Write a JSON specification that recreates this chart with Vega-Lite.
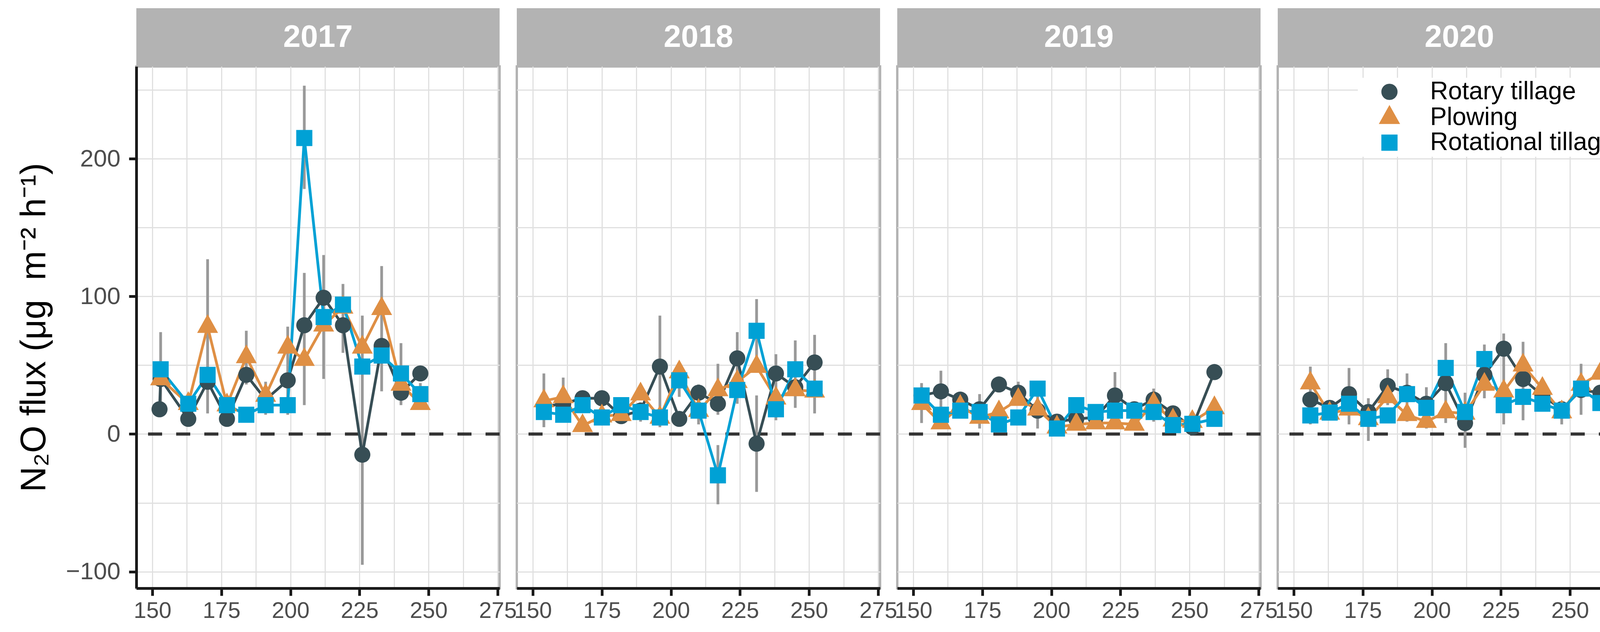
{
  "$schema": "https://vega.github.io/schema/vega-lite/v6.json",
  "background": "white",
  "padding": {"left": 40, "top": 21, "right": 0, "bottom": 0},
  "config": {"font": "Liberation Sans", "view": {"stroke": null}},
  "datasets": {
    "flux": [
      {"year":2017,"day":152.6,"trt":"Rotary tillage","flux":18},
      {"year":2017,"day":153,"trt":"Rotary tillage","flux":40},
      {"year":2017,"day":163,"trt":"Rotary tillage","flux":11},
      {"year":2017,"day":170,"trt":"Rotary tillage","flux":38},
      {"year":2017,"day":177,"trt":"Rotary tillage","flux":11},
      {"year":2017,"day":184,"trt":"Rotary tillage","flux":43},
      {"year":2017,"day":191,"trt":"Rotary tillage","flux":25,"lo":14,"hi":38},
      {"year":2017,"day":199,"trt":"Rotary tillage","flux":39,"lo":14,"hi":78},
      {"year":2017,"day":205,"trt":"Rotary tillage","flux":79,"lo":21,"hi":117},
      {"year":2017,"day":212,"trt":"Rotary tillage","flux":99},
      {"year":2017,"day":219,"trt":"Rotary tillage","flux":79,"lo":59,"hi":109},
      {"year":2017,"day":226,"trt":"Rotary tillage","flux":-15,"lo":-95,"hi":65},
      {"year":2017,"day":233,"trt":"Rotary tillage","flux":64},
      {"year":2017,"day":240,"trt":"Rotary tillage","flux":30},
      {"year":2017,"day":247,"trt":"Rotary tillage","flux":44},
      {"year":2017,"day":153,"trt":"Plowing","flux":40},
      {"year":2017,"day":163,"trt":"Plowing","flux":22},
      {"year":2017,"day":170,"trt":"Plowing","flux":78,"lo":15,"hi":127},
      {"year":2017,"day":177,"trt":"Plowing","flux":21},
      {"year":2017,"day":184,"trt":"Plowing","flux":56,"lo":36,"hi":75},
      {"year":2017,"day":191,"trt":"Plowing","flux":28},
      {"year":2017,"day":199,"trt":"Plowing","flux":63},
      {"year":2017,"day":205,"trt":"Plowing","flux":54},
      {"year":2017,"day":212,"trt":"Plowing","flux":79},
      {"year":2017,"day":219,"trt":"Plowing","flux":92},
      {"year":2017,"day":226,"trt":"Plowing","flux":63,"lo":46,"hi":86},
      {"year":2017,"day":233,"trt":"Plowing","flux":91,"lo":31,"hi":122},
      {"year":2017,"day":240,"trt":"Plowing","flux":36},
      {"year":2017,"day":247,"trt":"Plowing","flux":22},
      {"year":2017,"day":153,"trt":"Rotational tillage","flux":47,"lo":23,"hi":74},
      {"year":2017,"day":163,"trt":"Rotational tillage","flux":22},
      {"year":2017,"day":170,"trt":"Rotational tillage","flux":43},
      {"year":2017,"day":177,"trt":"Rotational tillage","flux":21},
      {"year":2017,"day":184,"trt":"Rotational tillage","flux":14},
      {"year":2017,"day":191,"trt":"Rotational tillage","flux":21},
      {"year":2017,"day":199,"trt":"Rotational tillage","flux":21},
      {"year":2017,"day":205,"trt":"Rotational tillage","flux":215,"lo":178,"hi":253},
      {"year":2017,"day":212,"trt":"Rotational tillage","flux":85,"lo":40,"hi":130},
      {"year":2017,"day":219,"trt":"Rotational tillage","flux":94},
      {"year":2017,"day":226,"trt":"Rotational tillage","flux":49},
      {"year":2017,"day":233,"trt":"Rotational tillage","flux":57},
      {"year":2017,"day":240,"trt":"Rotational tillage","flux":44,"lo":21,"hi":66},
      {"year":2017,"day":247,"trt":"Rotational tillage","flux":29,"lo":23,"hi":37},

      {"year":2018,"day":154,"trt":"Rotary tillage","flux":20},
      {"year":2018,"day":161,"trt":"Rotary tillage","flux":22},
      {"year":2018,"day":168,"trt":"Rotary tillage","flux":26},
      {"year":2018,"day":175,"trt":"Rotary tillage","flux":26},
      {"year":2018,"day":182,"trt":"Rotary tillage","flux":13},
      {"year":2018,"day":189,"trt":"Rotary tillage","flux":17},
      {"year":2018,"day":196,"trt":"Rotary tillage","flux":49,"lo":5,"hi":86},
      {"year":2018,"day":203,"trt":"Rotary tillage","flux":11},
      {"year":2018,"day":210,"trt":"Rotary tillage","flux":30},
      {"year":2018,"day":217,"trt":"Rotary tillage","flux":22},
      {"year":2018,"day":224,"trt":"Rotary tillage","flux":55,"lo":22,"hi":74},
      {"year":2018,"day":231,"trt":"Rotary tillage","flux":-7,"lo":-42,"hi":28},
      {"year":2018,"day":238,"trt":"Rotary tillage","flux":44,"lo":10,"hi":58},
      {"year":2018,"day":245,"trt":"Rotary tillage","flux":34},
      {"year":2018,"day":252,"trt":"Rotary tillage","flux":52,"lo":15,"hi":72},
      {"year":2018,"day":154,"trt":"Plowing","flux":24,"lo":5,"hi":44},
      {"year":2018,"day":161,"trt":"Plowing","flux":27,"lo":15,"hi":41},
      {"year":2018,"day":168,"trt":"Plowing","flux":6},
      {"year":2018,"day":175,"trt":"Plowing","flux":13},
      {"year":2018,"day":182,"trt":"Plowing","flux":14},
      {"year":2018,"day":189,"trt":"Plowing","flux":29},
      {"year":2018,"day":196,"trt":"Plowing","flux":12},
      {"year":2018,"day":203,"trt":"Plowing","flux":45},
      {"year":2018,"day":210,"trt":"Plowing","flux":17},
      {"year":2018,"day":217,"trt":"Plowing","flux":32,"lo":14,"hi":51},
      {"year":2018,"day":224,"trt":"Plowing","flux":38},
      {"year":2018,"day":231,"trt":"Plowing","flux":49},
      {"year":2018,"day":238,"trt":"Plowing","flux":26},
      {"year":2018,"day":245,"trt":"Plowing","flux":32},
      {"year":2018,"day":252,"trt":"Plowing","flux":31},
      {"year":2018,"day":154,"trt":"Rotational tillage","flux":16},
      {"year":2018,"day":161,"trt":"Rotational tillage","flux":14},
      {"year":2018,"day":168,"trt":"Rotational tillage","flux":21},
      {"year":2018,"day":175,"trt":"Rotational tillage","flux":12},
      {"year":2018,"day":182,"trt":"Rotational tillage","flux":21},
      {"year":2018,"day":189,"trt":"Rotational tillage","flux":16,"lo":9,"hi":23},
      {"year":2018,"day":196,"trt":"Rotational tillage","flux":12},
      {"year":2018,"day":203,"trt":"Rotational tillage","flux":39,"lo":27,"hi":50},
      {"year":2018,"day":210,"trt":"Rotational tillage","flux":17,"lo":7,"hi":36},
      {"year":2018,"day":217,"trt":"Rotational tillage","flux":-30,"lo":-51,"hi":-8},
      {"year":2018,"day":224,"trt":"Rotational tillage","flux":32},
      {"year":2018,"day":231,"trt":"Rotational tillage","flux":75,"lo":53,"hi":98},
      {"year":2018,"day":238,"trt":"Rotational tillage","flux":18},
      {"year":2018,"day":245,"trt":"Rotational tillage","flux":47,"lo":19,"hi":68},
      {"year":2018,"day":252,"trt":"Rotational tillage","flux":33},

      {"year":2019,"day":153,"trt":"Rotary tillage","flux":28},
      {"year":2019,"day":160,"trt":"Rotary tillage","flux":31,"lo":16,"hi":46},
      {"year":2019,"day":167,"trt":"Rotary tillage","flux":25},
      {"year":2019,"day":174,"trt":"Rotary tillage","flux":18},
      {"year":2019,"day":181,"trt":"Rotary tillage","flux":36},
      {"year":2019,"day":188,"trt":"Rotary tillage","flux":30,"lo":22,"hi":38},
      {"year":2019,"day":195,"trt":"Rotary tillage","flux":17,"lo":4,"hi":28},
      {"year":2019,"day":202,"trt":"Rotary tillage","flux":9},
      {"year":2019,"day":209,"trt":"Rotary tillage","flux":11},
      {"year":2019,"day":216,"trt":"Rotary tillage","flux":12},
      {"year":2019,"day":223,"trt":"Rotary tillage","flux":28,"lo":11,"hi":45},
      {"year":2019,"day":230,"trt":"Rotary tillage","flux":18},
      {"year":2019,"day":237,"trt":"Rotary tillage","flux":25},
      {"year":2019,"day":244,"trt":"Rotary tillage","flux":15},
      {"year":2019,"day":251,"trt":"Rotary tillage","flux":5},
      {"year":2019,"day":259,"trt":"Rotary tillage","flux":45},
      {"year":2019,"day":153,"trt":"Plowing","flux":22,"lo":8,"hi":37},
      {"year":2019,"day":160,"trt":"Plowing","flux":8},
      {"year":2019,"day":167,"trt":"Plowing","flux":20},
      {"year":2019,"day":174,"trt":"Plowing","flux":12},
      {"year":2019,"day":181,"trt":"Plowing","flux":16},
      {"year":2019,"day":188,"trt":"Plowing","flux":25},
      {"year":2019,"day":195,"trt":"Plowing","flux":18},
      {"year":2019,"day":202,"trt":"Plowing","flux":5},
      {"year":2019,"day":209,"trt":"Plowing","flux":7},
      {"year":2019,"day":216,"trt":"Plowing","flux":8},
      {"year":2019,"day":223,"trt":"Plowing","flux":8},
      {"year":2019,"day":230,"trt":"Plowing","flux":7},
      {"year":2019,"day":237,"trt":"Plowing","flux":22,"lo":9,"hi":33},
      {"year":2019,"day":244,"trt":"Plowing","flux":10},
      {"year":2019,"day":251,"trt":"Plowing","flux":9},
      {"year":2019,"day":259,"trt":"Plowing","flux":19},
      {"year":2019,"day":153,"trt":"Rotational tillage","flux":28},
      {"year":2019,"day":160,"trt":"Rotational tillage","flux":14},
      {"year":2019,"day":167,"trt":"Rotational tillage","flux":17},
      {"year":2019,"day":174,"trt":"Rotational tillage","flux":16,"lo":4,"hi":29},
      {"year":2019,"day":181,"trt":"Rotational tillage","flux":7},
      {"year":2019,"day":188,"trt":"Rotational tillage","flux":12},
      {"year":2019,"day":195,"trt":"Rotational tillage","flux":33},
      {"year":2019,"day":202,"trt":"Rotational tillage","flux":4},
      {"year":2019,"day":209,"trt":"Rotational tillage","flux":21},
      {"year":2019,"day":216,"trt":"Rotational tillage","flux":16},
      {"year":2019,"day":223,"trt":"Rotational tillage","flux":17},
      {"year":2019,"day":230,"trt":"Rotational tillage","flux":17},
      {"year":2019,"day":237,"trt":"Rotational tillage","flux":16},
      {"year":2019,"day":244,"trt":"Rotational tillage","flux":6.5},
      {"year":2019,"day":251,"trt":"Rotational tillage","flux":7.4},
      {"year":2019,"day":259,"trt":"Rotational tillage","flux":11},

      {"year":2020,"day":156,"trt":"Rotary tillage","flux":25,"lo":7,"hi":49},
      {"year":2020,"day":163,"trt":"Rotary tillage","flux":19},
      {"year":2020,"day":170,"trt":"Rotary tillage","flux":29,"lo":7,"hi":48},
      {"year":2020,"day":177,"trt":"Rotary tillage","flux":16},
      {"year":2020,"day":184,"trt":"Rotary tillage","flux":35,"lo":21,"hi":47},
      {"year":2020,"day":191,"trt":"Rotary tillage","flux":30},
      {"year":2020,"day":198,"trt":"Rotary tillage","flux":22},
      {"year":2020,"day":205,"trt":"Rotary tillage","flux":37,"lo":8,"hi":66},
      {"year":2020,"day":212,"trt":"Rotary tillage","flux":8,"lo":-10,"hi":30},
      {"year":2020,"day":219,"trt":"Rotary tillage","flux":43,"lo":26,"hi":65},
      {"year":2020,"day":226,"trt":"Rotary tillage","flux":62,"lo":7,"hi":73},
      {"year":2020,"day":233,"trt":"Rotary tillage","flux":40,"lo":10,"hi":67},
      {"year":2020,"day":240,"trt":"Rotary tillage","flux":28},
      {"year":2020,"day":247,"trt":"Rotary tillage","flux":18},
      {"year":2020,"day":254,"trt":"Rotary tillage","flux":32},
      {"year":2020,"day":261,"trt":"Rotary tillage","flux":30},
      {"year":2020,"day":156,"trt":"Plowing","flux":37},
      {"year":2020,"day":163,"trt":"Plowing","flux":15},
      {"year":2020,"day":170,"trt":"Plowing","flux":18},
      {"year":2020,"day":177,"trt":"Plowing","flux":11},
      {"year":2020,"day":184,"trt":"Plowing","flux":27},
      {"year":2020,"day":191,"trt":"Plowing","flux":14},
      {"year":2020,"day":198,"trt":"Plowing","flux":9},
      {"year":2020,"day":205,"trt":"Plowing","flux":16},
      {"year":2020,"day":212,"trt":"Plowing","flux":15},
      {"year":2020,"day":219,"trt":"Plowing","flux":36},
      {"year":2020,"day":226,"trt":"Plowing","flux":31},
      {"year":2020,"day":233,"trt":"Plowing","flux":50},
      {"year":2020,"day":240,"trt":"Plowing","flux":33},
      {"year":2020,"day":247,"trt":"Plowing","flux":16,"lo":7,"hi":24},
      {"year":2020,"day":254,"trt":"Plowing","flux":36},
      {"year":2020,"day":261,"trt":"Plowing","flux":44},
      {"year":2020,"day":156,"trt":"Rotational tillage","flux":13.5},
      {"year":2020,"day":163,"trt":"Rotational tillage","flux":15.6},
      {"year":2020,"day":170,"trt":"Rotational tillage","flux":22},
      {"year":2020,"day":177,"trt":"Rotational tillage","flux":11,"lo":-5,"hi":26},
      {"year":2020,"day":184,"trt":"Rotational tillage","flux":13.5},
      {"year":2020,"day":191,"trt":"Rotational tillage","flux":29,"lo":9,"hi":44},
      {"year":2020,"day":198,"trt":"Rotational tillage","flux":19,"lo":4,"hi":34},
      {"year":2020,"day":205,"trt":"Rotational tillage","flux":48},
      {"year":2020,"day":212,"trt":"Rotational tillage","flux":16},
      {"year":2020,"day":219,"trt":"Rotational tillage","flux":54.5},
      {"year":2020,"day":226,"trt":"Rotational tillage","flux":21},
      {"year":2020,"day":233,"trt":"Rotational tillage","flux":27},
      {"year":2020,"day":240,"trt":"Rotational tillage","flux":22},
      {"year":2020,"day":247,"trt":"Rotational tillage","flux":17},
      {"year":2020,"day":254,"trt":"Rotational tillage","flux":33,"lo":14,"hi":51},
      {"year":2020,"day":261,"trt":"Rotational tillage","flux":22.5}
    ]
  },
  "columns": 4,
  "spacing": {"row": 0, "column": 44},
  "bounds": "flush",
  "resolve": {"legend": {"color": "independent", "shape": "independent"}},
  "concat": [
    {"width": 930, "height": 149, "data": {"values": [{"label": "2017"}]}, "view": {"fill": "#b3b3b3", "stroke": null},
     "mark": {"type": "text", "font": "Liberation Sans", "fontSize": 80, "fontWeight": "bold", "color": "white"},
     "encoding": {"text": {"field": "label"}}},
    {"width": 930, "height": 149, "data": {"values": [{"label": "2018"}]}, "view": {"fill": "#b3b3b3", "stroke": null},
     "mark": {"type": "text", "font": "Liberation Sans", "fontSize": 80, "fontWeight": "bold", "color": "white"},
     "encoding": {"text": {"field": "label"}}},
    {"width": 930, "height": 149, "data": {"values": [{"label": "2019"}]}, "view": {"fill": "#b3b3b3", "stroke": null},
     "mark": {"type": "text", "font": "Liberation Sans", "fontSize": 80, "fontWeight": "bold", "color": "white"},
     "encoding": {"text": {"field": "label"}}},
    {"width": 930, "height": 149, "data": {"values": [{"label": "2020"}]}, "view": {"fill": "#b3b3b3", "stroke": null},
     "mark": {"type": "text", "font": "Liberation Sans", "fontSize": 80, "fontWeight": "bold", "color": "white"},
     "encoding": {"text": {"field": "label"}}},

    {"width": 930, "height": 1335, "data": {"name": "flux"}, "transform": [{"filter": "datum.year == 2017"}],
     "view": {"stroke": "#b3b3b3", "strokeWidth": 6},
     "layer": [
       {"transform": [{"aggregate": [{"op": "count", "as": "n"}]}],
        "mark": {"type": "rule", "color": "#333333", "strokeWidth": 8, "strokeDash": [36, 36]},
        "encoding": {"y": {"datum": 0, "type": "quantitative", "axis": null}}},
       {"transform": [{"filter": "isValid(datum.lo)"}],
        "mark": {"type": "rule", "color": "#999999", "strokeWidth": 7},
        "encoding": {
          "x": {"field": "day", "type": "quantitative", "scale": {"domain": [144.2, 275.7], "nice": false, "zero": false},
                "axis": {"orient": "top", "values": [150,162.5,175,187.5,200,212.5,225,237.5,250,262.5,275], "grid": true, "gridColor": "#e0e0e0", "gridWidth": 3, "ticks": false, "labels": false, "domain": false, "title": null}},
          "y": {"field": "lo", "type": "quantitative", "scale": {"domain": [-112, 267], "nice": false, "zero": false},
                "axis": {"orient": "right", "values": [-100,-50,0,50,100,150,200,250], "grid": true, "gridColor": "#e0e0e0", "gridWidth": 3, "ticks": false, "labels": false, "domain": false, "title": null}},
          "y2": {"field": "hi"}}},
       {"mark": {"type": "line", "strokeWidth": 7},
        "encoding": {
          "x": {"field": "day", "type": "quantitative", "axis": null},
          "y": {"field": "flux", "type": "quantitative", "axis": null},
          "color": {"field": "trt", "type": "nominal", "scale": {"domain": ["Rotary tillage", "Plowing", "Rotational tillage"], "range": ["#374E55", "#DF8F44", "#00A1D5"]}, "legend": null}}},
       {"mark": {"type": "point", "filled": true, "opacity": 1, "size": 1700},
        "encoding": {
          "x": {"field": "day", "type": "quantitative",
                "axis": {"orient": "bottom", "values": [150,175,200,225,250,275], "grid": false, "domainColor": "#1a1a1a", "domainWidth": 7, "tickColor": "#1a1a1a", "tickWidth": 7, "tickSize": 19, "labelFontSize": 58, "labelColor": "#4d4d4d", "labelFont": "Liberation Sans", "labelPadding": 10, "labelFlush": false, "labelOverlap": false, "title": null}},
          "y": {"field": "flux", "type": "quantitative",
                "axis": {"orient": "left", "values": [-100,0,100,200], "grid": false, "domainColor": "#1a1a1a", "domainWidth": 7, "tickColor": "#1a1a1a", "tickWidth": 7, "tickSize": 19, "labelFontSize": 62, "labelColor": "#4d4d4d", "labelFont": "Liberation Sans", "labelPadding": 22, "title": "N₂O flux (μg\u00a0\u00a0m⁻² h⁻¹)", "titleFont": "Liberation Sans", "titleFontSize": 90, "titleFontWeight": "normal", "titleColor": "black", "titlePadding": 34}},
          "color": {"field": "trt", "type": "nominal", "scale": {"domain": ["Rotary tillage", "Plowing", "Rotational tillage"], "range": ["#374E55", "#DF8F44", "#00A1D5"]}, "legend": null},
          "shape": {"field": "trt", "type": "nominal", "scale": {"domain": ["Rotary tillage", "Plowing", "Rotational tillage"], "range": ["circle", "M0,-1.55L1.3,0.78H-1.3Z", "square"]}, "legend": null}}}
     ],
     "resolve": {"axis": {"x": "independent", "y": "independent"}}},

    {"width": 930, "height": 1335, "data": {"name": "flux"}, "transform": [{"filter": "datum.year == 2018"}],
     "view": {"stroke": "#b3b3b3", "strokeWidth": 6},
     "layer": [
       {"transform": [{"aggregate": [{"op": "count", "as": "n"}]}],
        "mark": {"type": "rule", "color": "#333333", "strokeWidth": 8, "strokeDash": [36, 36]},
        "encoding": {"y": {"datum": 0, "type": "quantitative", "axis": null}}},
       {"transform": [{"filter": "isValid(datum.lo)"}],
        "mark": {"type": "rule", "color": "#999999", "strokeWidth": 7},
        "encoding": {
          "x": {"field": "day", "type": "quantitative", "scale": {"domain": [144.2, 275.7], "nice": false, "zero": false},
                "axis": {"orient": "top", "values": [150,162.5,175,187.5,200,212.5,225,237.5,250,262.5,275], "grid": true, "gridColor": "#e0e0e0", "gridWidth": 3, "ticks": false, "labels": false, "domain": false, "title": null}},
          "y": {"field": "lo", "type": "quantitative", "scale": {"domain": [-112, 267], "nice": false, "zero": false},
                "axis": {"orient": "right", "values": [-100,-50,0,50,100,150,200,250], "grid": true, "gridColor": "#e0e0e0", "gridWidth": 3, "ticks": false, "labels": false, "domain": false, "title": null}},
          "y2": {"field": "hi"}}},
       {"mark": {"type": "line", "strokeWidth": 7},
        "encoding": {
          "x": {"field": "day", "type": "quantitative", "axis": null},
          "y": {"field": "flux", "type": "quantitative", "axis": null},
          "color": {"field": "trt", "type": "nominal", "scale": {"domain": ["Rotary tillage", "Plowing", "Rotational tillage"], "range": ["#374E55", "#DF8F44", "#00A1D5"]}, "legend": null}}},
       {"mark": {"type": "point", "filled": true, "opacity": 1, "size": 1700},
        "encoding": {
          "x": {"field": "day", "type": "quantitative",
                "axis": {"orient": "bottom", "values": [150,175,200,225,250,275], "grid": false, "domainColor": "#1a1a1a", "domainWidth": 7, "tickColor": "#1a1a1a", "tickWidth": 7, "tickSize": 19, "labelFontSize": 58, "labelColor": "#4d4d4d", "labelFont": "Liberation Sans", "labelPadding": 10, "labelFlush": false, "labelOverlap": false, "title": null}},
          "y": {"field": "flux", "type": "quantitative", "axis": null},
          "color": {"field": "trt", "type": "nominal", "scale": {"domain": ["Rotary tillage", "Plowing", "Rotational tillage"], "range": ["#374E55", "#DF8F44", "#00A1D5"]}, "legend": null},
          "shape": {"field": "trt", "type": "nominal", "scale": {"domain": ["Rotary tillage", "Plowing", "Rotational tillage"], "range": ["circle", "M0,-1.55L1.3,0.78H-1.3Z", "square"]}, "legend": null}}}
     ],
     "resolve": {"axis": {"x": "independent", "y": "independent"}}},

    {"width": 930, "height": 1335, "data": {"name": "flux"}, "transform": [{"filter": "datum.year == 2019"}],
     "view": {"stroke": "#b3b3b3", "strokeWidth": 6},
     "layer": [
       {"transform": [{"aggregate": [{"op": "count", "as": "n"}]}],
        "mark": {"type": "rule", "color": "#333333", "strokeWidth": 8, "strokeDash": [36, 36]},
        "encoding": {"y": {"datum": 0, "type": "quantitative", "axis": null}}},
       {"transform": [{"filter": "isValid(datum.lo)"}],
        "mark": {"type": "rule", "color": "#999999", "strokeWidth": 7},
        "encoding": {
          "x": {"field": "day", "type": "quantitative", "scale": {"domain": [144.2, 275.7], "nice": false, "zero": false},
                "axis": {"orient": "top", "values": [150,162.5,175,187.5,200,212.5,225,237.5,250,262.5,275], "grid": true, "gridColor": "#e0e0e0", "gridWidth": 3, "ticks": false, "labels": false, "domain": false, "title": null}},
          "y": {"field": "lo", "type": "quantitative", "scale": {"domain": [-112, 267], "nice": false, "zero": false},
                "axis": {"orient": "right", "values": [-100,-50,0,50,100,150,200,250], "grid": true, "gridColor": "#e0e0e0", "gridWidth": 3, "ticks": false, "labels": false, "domain": false, "title": null}},
          "y2": {"field": "hi"}}},
       {"mark": {"type": "line", "strokeWidth": 7},
        "encoding": {
          "x": {"field": "day", "type": "quantitative", "axis": null},
          "y": {"field": "flux", "type": "quantitative", "axis": null},
          "color": {"field": "trt", "type": "nominal", "scale": {"domain": ["Rotary tillage", "Plowing", "Rotational tillage"], "range": ["#374E55", "#DF8F44", "#00A1D5"]}, "legend": null}}},
       {"mark": {"type": "point", "filled": true, "opacity": 1, "size": 1700},
        "encoding": {
          "x": {"field": "day", "type": "quantitative",
                "axis": {"orient": "bottom", "values": [150,175,200,225,250,275], "grid": false, "domainColor": "#1a1a1a", "domainWidth": 7, "tickColor": "#1a1a1a", "tickWidth": 7, "tickSize": 19, "labelFontSize": 58, "labelColor": "#4d4d4d", "labelFont": "Liberation Sans", "labelPadding": 10, "labelFlush": false, "labelOverlap": false, "title": null}},
          "y": {"field": "flux", "type": "quantitative", "axis": null},
          "color": {"field": "trt", "type": "nominal", "scale": {"domain": ["Rotary tillage", "Plowing", "Rotational tillage"], "range": ["#374E55", "#DF8F44", "#00A1D5"]}, "legend": null},
          "shape": {"field": "trt", "type": "nominal", "scale": {"domain": ["Rotary tillage", "Plowing", "Rotational tillage"], "range": ["circle", "M0,-1.55L1.3,0.78H-1.3Z", "square"]}, "legend": null}}}
     ],
     "resolve": {"axis": {"x": "independent", "y": "independent"}}},

    {"width": 930, "height": 1335, "data": {"name": "flux"}, "transform": [{"filter": "datum.year == 2020"}],
     "view": {"stroke": "#b3b3b3", "strokeWidth": 6},
     "layer": [
       {"transform": [{"aggregate": [{"op": "count", "as": "n"}]}],
        "mark": {"type": "rule", "color": "#333333", "strokeWidth": 8, "strokeDash": [36, 36]},
        "encoding": {"y": {"datum": 0, "type": "quantitative", "axis": null}}},
       {"transform": [{"filter": "isValid(datum.lo)"}],
        "mark": {"type": "rule", "color": "#999999", "strokeWidth": 7},
        "encoding": {
          "x": {"field": "day", "type": "quantitative", "scale": {"domain": [144.2, 275.7], "nice": false, "zero": false},
                "axis": {"orient": "top", "values": [150,162.5,175,187.5,200,212.5,225,237.5,250,262.5,275], "grid": true, "gridColor": "#e0e0e0", "gridWidth": 3, "ticks": false, "labels": false, "domain": false, "title": null}},
          "y": {"field": "lo", "type": "quantitative", "scale": {"domain": [-112, 267], "nice": false, "zero": false},
                "axis": {"orient": "right", "values": [-100,-50,0,50,100,150,200,250], "grid": true, "gridColor": "#e0e0e0", "gridWidth": 3, "ticks": false, "labels": false, "domain": false, "title": null}},
          "y2": {"field": "hi"}}},
       {"mark": {"type": "line", "strokeWidth": 7},
        "encoding": {
          "x": {"field": "day", "type": "quantitative", "axis": null},
          "y": {"field": "flux", "type": "quantitative", "axis": null},
          "color": {"field": "trt", "type": "nominal", "scale": {"domain": ["Rotary tillage", "Plowing", "Rotational tillage"], "range": ["#374E55", "#DF8F44", "#00A1D5"]}}}},
       {"mark": {"type": "point", "filled": true, "opacity": 1, "size": 1700},
        "encoding": {
          "x": {"field": "day", "type": "quantitative",
                "axis": {"orient": "bottom", "values": [150,175,200,225,250,275], "grid": false, "domainColor": "#1a1a1a", "domainWidth": 7, "tickColor": "#1a1a1a", "tickWidth": 7, "tickSize": 19, "labelFontSize": 58, "labelColor": "#4d4d4d", "labelFont": "Liberation Sans", "labelPadding": 10, "labelFlush": false, "labelOverlap": false, "title": null}},
          "y": {"field": "flux", "type": "quantitative", "axis": null},
          "color": {"field": "trt", "type": "nominal", "scale": {"domain": ["Rotary tillage", "Plowing", "Rotational tillage"], "range": ["#374E55", "#DF8F44", "#00A1D5"]},
                    "legend": {"orient": "none", "legendX": 205, "legendY": 29, "title": null, "padding": 4, "fillColor": "white",
                               "symbolSize": 1600, "symbolOffset": 45, "labelOffset": 72, "labelFontSize": 64, "labelFont": "Liberation Sans", "labelColor": "black", "labelLimit": 0, "rowPadding": 0}},
          "shape": {"field": "trt", "type": "nominal", "scale": {"domain": ["Rotary tillage", "Plowing", "Rotational tillage"], "range": ["circle", "M0,-1.55L1.3,0.78H-1.3Z", "square"]}, "legend": null}}}
     ],
     "resolve": {"axis": {"x": "independent", "y": "independent"}}}
  ]
}
